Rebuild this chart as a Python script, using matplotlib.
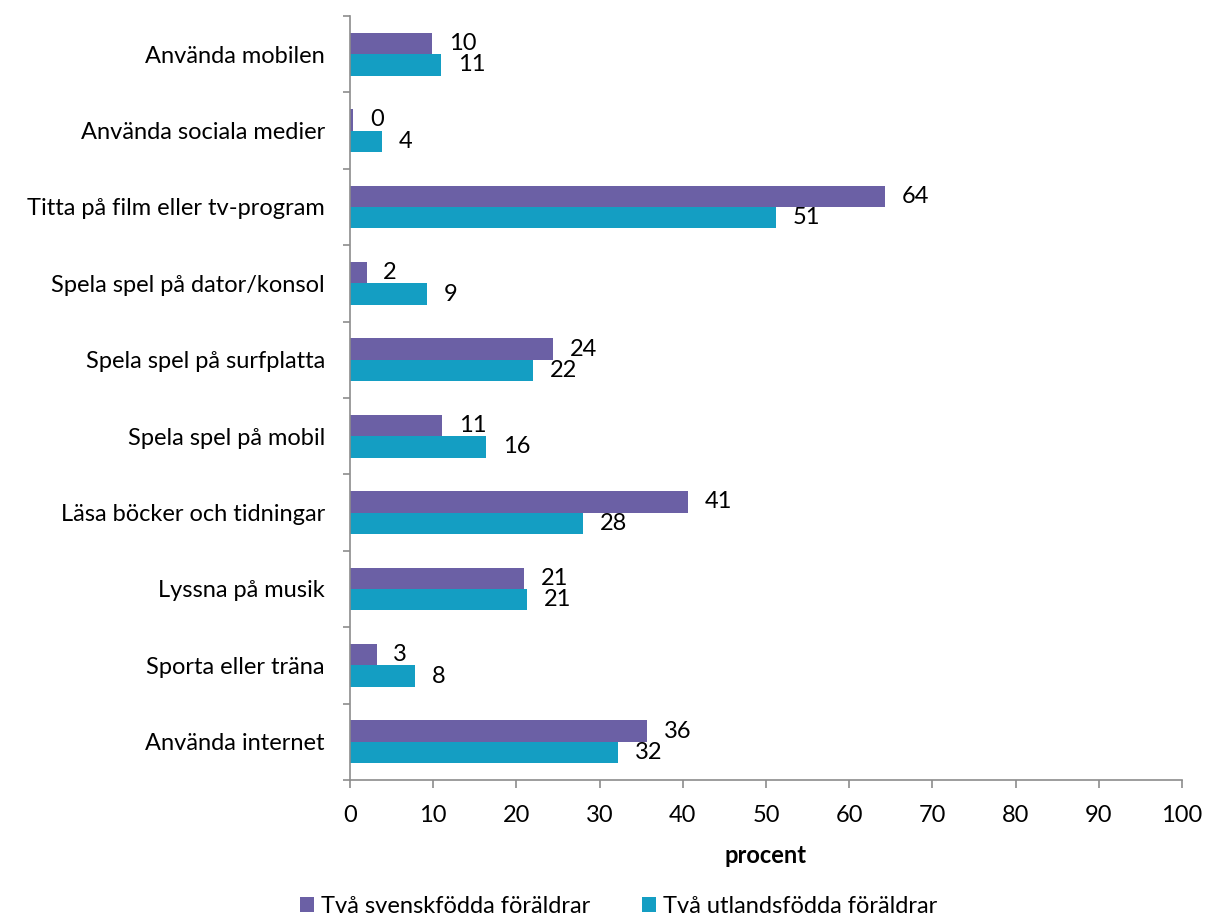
import numpy as np
import matplotlib
matplotlib.use('Agg')
import matplotlib.pyplot as plt

plt.rcParams['font.family'] = ['Lato', 'DejaVu Sans']

# data, top to bottom
categories = ['Använda mobilen', 'Använda sociala medier', 'Titta på film eller tv-program',
              'Spela spel på dator/konsol', 'Spela spel på surfplatta', 'Spela spel på mobil',
              'Läsa böcker och tidningar', 'Lyssna på musik', 'Sporta eller träna', 'Använda internet']
svensk = [9.9, 0.4, 64.3, 2.0, 24.4, 11.1, 40.6, 20.9, 3.2, 35.7]
utland = [11.0, 3.9, 51.2, 9.3, 22.0, 16.4, 28.0, 21.3, 7.8, 32.2]
series_names = ['Två svenskfödda föräldrar', 'Två utlandsfödda föräldrar']
c_sv = '#6B60A5'
c_ut = '#149EC3'
fs = 17

fig = plt.figure(figsize=(12.08, 9.19), dpi=100)
ax = fig.add_axes([0.2897, 0.1513, 0.6888, 0.8313])

y = np.arange(len(categories))
h = 0.28
b1 = ax.barh(y - h/2, svensk, height=h, color=c_sv, label=series_names[0])
b2 = ax.barh(y + h/2, utland, height=h, color=c_ut, label=series_names[1])

for bars, vals in [(b1, svensk), (b2, utland)]:
    for bar, v in zip(bars, vals):
        ax.annotate(str(int(round(v))), (v, bar.get_y() + bar.get_height()/2),
                    xytext=(12, 0), textcoords='offset points',
                    ha='left', va='center', fontsize=fs)

ax.set_ylim(len(categories) - 0.5, -0.5)
ax.set_xlim(0, 100)
ax.set_xticks(np.arange(0, 101, 10))
ax.set_yticks(y)
ax.set_yticklabels(categories)
ax.set_yticks(np.arange(-0.5, len(categories), 1), minor=True)
ax.tick_params(axis='y', which='major', length=0, pad=18, labelsize=fs)
ax.tick_params(axis='y', which='minor', length=5, color='#8c8c8c', width=1.2)
ax.tick_params(axis='x', length=6, color='#8c8c8c', width=1.2, pad=12, labelsize=fs)

for s in ['top', 'right']:
    ax.spines[s].set_visible(False)
for s in ['left', 'bottom']:
    ax.spines[s].set_color('#8c8c8c')
    ax.spines[s].set_linewidth(1.2)

ax.set_xlabel('procent', fontsize=fs, fontweight='bold', labelpad=13)

fig.legend(handles=[b1, b2], loc='center', bbox_to_anchor=(0.512, 0.014), ncol=2,
           frameon=False, fontsize=fs, handlelength=0.6, handleheight=0.6,
           handletextpad=0.3, columnspacing=2.2)

fig.savefig('out.png', dpi=100)
